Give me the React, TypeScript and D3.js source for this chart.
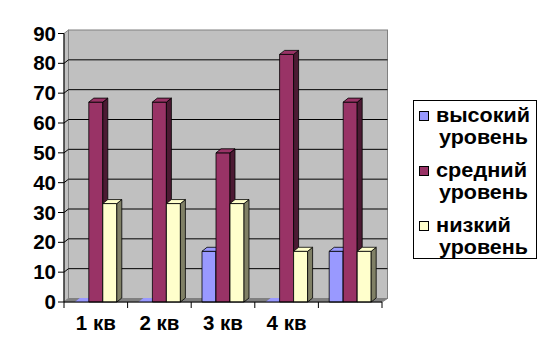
import React from "react";
import * as d3 from "d3";

const categories = ["1 кв", "2 кв", "3 кв", "4 кв", ""];
const seriesNames = ["высокий уровень", "средний уровень", "низкий уровень"];
const high = [0, 0, 17, 0, 17];
const mid = [67, 67, 50, 83, 67];
const low = [33, 33, 33, 17, 17];
const yTicks = [0, 10, 20, 30, 40, 50, 60, 70, 80, 90];

const series = [high, mid, low];
const fronts = ["#9999FF", "#993366", "#FFFFCC"];
const tops = ["#9999FF", "#993366", "#FFFFCC"];
const sides = ["#4C4C80", "#4C1A33", "#808066"];
const legendWidths: Record<string, number> = { "высокий": 94, "средний": 91, "низкий": 75, "уровень": 89 };

const W = 547, H = 359;
const X0 = 64, X1 = 382, Y0 = 302, Y1 = 33.5;
const WDX = 4.5, WDY = 3.5;
const BDX = 5, BDY = 4;
const FONT = "'Liberation Sans', Arial, sans-serif";

export default function App() {
  const x = d3.scaleBand<string>().domain(categories.map((c, i) => String(i))).range([X0, X1]);
  const y = d3.scaleLinear().domain([0, 90]).range([Y0, Y1]);
  const inner = d3.scaleBand<string>().domain(["0", "1", "2"]).range([0, 42]);
  const bw = inner.bandwidth();
  const pts = (a: number[][]) => a.map((p) => p.join(",")).join(" ");

  const bars: React.ReactNode[] = [];
  categories.forEach((c, ci) => {
    const gx = (x(String(ci)) as number) + (x.bandwidth() - 42) / 2;
    series.forEach((s, si) => {
      const v = s[ci];
      const x0 = gx + (inner(String(si)) as number);
      const x1 = x0 + bw;
      const yt = y(v);
      bars.push(
        <g key={`${ci}-${si}`} stroke="#000" strokeWidth={0.8} strokeLinejoin="round">
          {v > 0 && <rect x={x0} y={yt} width={bw} height={Y0 - yt} fill={fronts[si]} />}
          {v > 0 && (
            <polygon points={pts([[x1, yt], [x1 + BDX, yt - BDY], [x1 + BDX, Y0 - BDY], [x1, Y0]])} fill={sides[si]} />
          )}
          <polygon
            points={pts([[x0, yt], [x0 + BDX, yt - BDY], [x1 + BDX, yt - BDY], [x1, yt]])}
            fill={tops[si]}
            stroke={v > 0 ? "#000" : "none"}
          />
        </g>
      );
    });
  });

  return (
    <svg width={W} height={H} style={{ position: "absolute", left: 0, top: 0 }} fontFamily={FONT}>
      <rect width={W} height={H} fill="#fff" />
      <rect x={X0 + WDX} y={Y1 - WDY} width={X1 - X0 + 1} height={Y0 - Y1} fill="#C0C0C0" stroke="#808080" strokeWidth={1} />
      <polygon points={pts([[X0, Y1], [X0 + WDX, Y1 - WDY], [X0 + WDX, Y0 - WDY], [X0, Y0]])} fill="#C0C0C0" stroke="#808080" strokeWidth={1} />
      {yTicks.filter((t) => t > 0 && t < 90).map((t) => (
        <g key={t} stroke="#000" strokeWidth={1}>
          <line x1={X0} y1={y(t)} x2={X0 + WDX} y2={y(t) - WDY} />
          <line x1={X0 + WDX} y1={y(t) - WDY} x2={X1 + WDX + 1} y2={y(t) - WDY} />
        </g>
      ))}
      <polygon points={pts([[X0, Y0], [X0 + WDX, Y0 - WDY], [X1 + WDX + 1, Y0 - WDY], [X1, Y0]])} fill="#808080" stroke="#808080" strokeWidth={1} />
      {bars}
      <line x1={X0} y1={Y1} x2={X0} y2={Y0} stroke="#000" />
      {yTicks.map((t) => (
        <g key={t}>
          <line x1={X0 - 6} x2={X0} y1={y(t)} y2={y(t)} stroke="#000" />
          <text x={X0 - 8} y={y(t) + 7} textAnchor="end" fontSize={20.5} fontWeight="bold">{t}</text>
        </g>
      ))}
      <line x1={X0} y1={Y0} x2={X1} y2={Y0} stroke="#000" />
      {categories.map((c, i) => (
        <line key={"t" + i} x1={(x(String(i)) as number)} x2={(x(String(i)) as number)} y1={Y0} y2={Y0 + 6} stroke="#000" />
      ))}
      <line x1={X1} x2={X1} y1={Y0} y2={Y0 + 6} stroke="#000" />
      {categories.map((c, i) => (
        <text key={"l" + i} x={(x(String(i)) as number) + x.bandwidth() / 2} y={330} textAnchor="middle" fontSize={20.5} fontWeight="bold">{c}</text>
      ))}
      <rect x={413.5} y={100.5} width={123} height={158} fill="#fff" stroke="#000" />
      {seriesNames.map((n, i) => {
        const [a, b] = n.split(" ");
        const yy = 111 + i * 55;
        return (
          <g key={n}>
            <rect x={419.5} y={yy + 0.5} width={9} height={9} fill={fronts[i]} stroke="#000" />
            <text x={436} y={yy + 11} fontSize={20} fontWeight="bold" textLength={legendWidths[a]} lengthAdjust="spacingAndGlyphs">{a}</text>
            <text x={439} y={yy + 33} fontSize={20} fontWeight="bold" textLength={legendWidths[b]} lengthAdjust="spacingAndGlyphs">{b}</text>
          </g>
        );
      })}
    </svg>
  );
}
